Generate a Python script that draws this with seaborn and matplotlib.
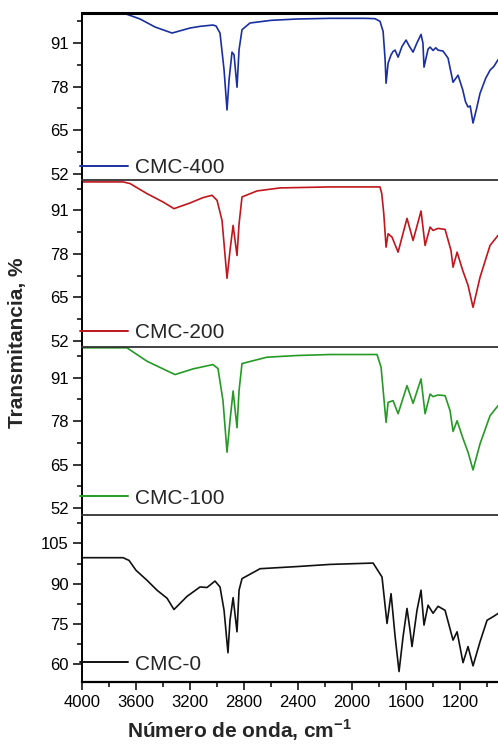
import numpy as np
import pandas as pd
import matplotlib
matplotlib.use("Agg")
import matplotlib.pyplot as plt
import seaborn as sns

# wavenumber (cm-1) / transmittance (%)
wn_400 = [4000, 3696, 3667, 3570, 3459, 3333, 3200, 3126, 3030, 3007, 2978, 2948, 2926, 2911,
          2889, 2874, 2852, 2837, 2815, 2756, 2600, 2407, 2163, 1900, 1830, 1793, 1770, 1755,
          1748, 1733, 1711, 1696, 1681, 1659, 1630, 1600, 1575, 1548, 1520, 1489, 1475, 1467,
          1437, 1422, 1400, 1380, 1363, 1326, 1289, 1252, 1215, 1180, 1160, 1141, 1125, 1104,
          1080, 1052, 1010, 978, 950, 919]
t_400 = [99.8, 99.8, 99.6, 98.2, 95.8, 94.0, 95.5, 96.0, 96.4, 96.1, 94.0, 83.0, 71.0, 80.0,
         88.3, 87.5, 77.8, 89.0, 95.0, 97.0, 97.8, 98.2, 98.4, 98.4, 98.3, 97.5, 94.5, 86.0,
         79.0, 85.0, 87.5, 88.5, 88.9, 86.8, 90.0, 91.9, 90.0, 88.3, 91.0, 93.6, 91.0, 83.8,
         89.2, 89.8, 88.8, 89.6, 88.9, 88.6, 86.5, 79.3, 81.4, 77.0, 73.5, 71.9, 72.2, 67.1,
         71.0, 76.0, 80.5, 82.9, 84.0, 86.0]

wn_200 = [4000, 3696, 3644, 3519, 3400, 3319, 3200, 3104, 3037, 3000, 2963, 2926, 2904, 2881,
          2852, 2837, 2815, 2704, 2533, 2163, 1793, 1780, 1765, 1748, 1733, 1704, 1659, 1593,
          1548, 1489, 1459, 1422, 1400, 1363, 1311, 1267, 1252, 1222, 1180, 1141, 1104, 1052,
          978, 919]
t_200 = [99.5, 99.5, 99.0, 96.0, 93.5, 91.5, 93.2, 94.8, 95.5, 94.0, 88.0, 70.7, 79.0, 86.5,
         77.5, 86.9, 95.0, 96.8, 97.7, 98.0, 98.0, 96.0, 90.0, 80.0, 84.0, 83.0, 78.5, 88.6,
         82.0, 90.8, 80.5, 86.0, 85.0, 85.6, 85.3, 79.0, 74.0, 78.5, 73.0, 68.6, 62.0, 71.0,
         80.5, 83.5]

wn_100 = [4000, 3667, 3519, 3400, 3311, 3178, 3030, 2993, 2956, 2926, 2904, 2881, 2852, 2837,
          2815, 2630, 2407, 2163, 1815, 1785, 1748, 1733, 1696, 1659, 1593, 1548, 1489, 1459,
          1422, 1400, 1363, 1311, 1274, 1252, 1222, 1180, 1141, 1104, 1052, 978, 919]
t_100 = [99.9, 99.9, 95.9, 93.6, 91.9, 93.6, 94.9, 93.7, 84.1, 68.7, 78.1, 87.0, 76.0, 87.1,
         95.2, 97.1, 97.6, 97.9, 97.9, 94.1, 77.6, 83.6, 84.1, 80.2, 88.6, 83.3, 90.6, 80.2,
         86.1, 85.3, 85.8, 85.6, 81.1, 74.9, 78.1, 73.0, 68.7, 63.4, 71.2, 79.6, 82.6]

wn_0 = [4000, 3696, 3652, 3600, 3519, 3445, 3370, 3319, 3222, 3126, 3074, 3015, 2978, 2948,
        2919, 2904, 2881, 2852, 2837, 2815, 2681, 2407, 2163, 1844, 1778, 1741, 1711, 1681,
        1652, 1622, 1593, 1570, 1556, 1519, 1489, 1467, 1437, 1400, 1363, 1311, 1252, 1222,
        1178, 1141, 1104, 1052, 1000, 956, 919]
t_0 = [99.7, 99.7, 98.7, 95.0, 91.3, 87.6, 84.6, 80.4, 85.3, 88.8, 88.6, 91.0, 88.8, 80.1,
       64.3, 76.4, 84.8, 72.1, 87.6, 91.9, 95.6, 96.4, 97.2, 97.7, 92.5, 75.2, 86.3, 70.3,
       57.3, 70.3, 80.8, 72.5, 66.6, 80.1, 87.6, 74.6, 82.0, 79.0, 81.6, 80.1, 69.0, 72.1,
       60.6, 66.6, 59.4, 68.4, 76.4, 77.7, 78.9]

labels = ["CMC-400", "CMC-200", "CMC-100", "CMC-0"]
colors = ["#1a2fa0", "#c0161c", "#259a25", "#111111"]
spectra = [(wn_400, t_400), (wn_200, t_200), (wn_100, t_100), (wn_0, t_0)]

sns.set_theme(style="ticks")
plt.rcParams["font.family"] = ["Liberation Sans", "DejaVu Sans"]
plt.rcParams["mathtext.fontset"] = "custom"
plt.rcParams["mathtext.rm"] = "Liberation Sans"
plt.rcParams["mathtext.bf"] = "Liberation Sans:bold"

fig, axes = plt.subplots(4, 1, figsize=(4.98, 7.46), dpi=100, sharex=True)
fig.subplots_adjust(left=0.1647, right=1.0, top=0.9826, bottom=0.0858, hspace=0)

leg_y = [0.074, 0.09, 0.10, 0.107]

for i, ax in enumerate(axes):
    wn, t = spectra[i]
    df = pd.DataFrame({"wn": wn, "T": t})
    sns.lineplot(data=df, x="wn", y="T", ax=ax, color=colors[i], lw=1.2,
                 label=labels[i], estimator=None)
    ax.set_xlim(4000, 919)
    if i < 3:
        ax.set_ylim(50, 100)
        ax.set_yticks([52, 65, 78, 91])
        ax.set_yticks([58.5, 71.5, 84.5, 97.5], minor=True)
    else:
        ax.set_ylim(53.4, 115.7)
        ax.set_yticks([60, 75, 90, 105])
        ax.set_yticks([67.5, 82.5, 97.5, 112.5], minor=True)
    ax.set_xlabel("")
    ax.set_ylabel("")
    ax.spines["right"].set_visible(False)
    ax.spines["left"].set_linewidth(1.4)
    ax.spines["left"].set_color("black")
    if i == 0:
        ax.spines["top"].set_linewidth(2.2)
        ax.spines["top"].set_color("black")
    else:
        ax.spines["top"].set_linewidth(1.3)
        ax.spines["top"].set_color("#333333")
    if i < 3:
        ax.spines["bottom"].set_visible(False)
        ax.tick_params(axis="x", which="both", bottom=False, labelbottom=False)
    else:
        ax.spines["bottom"].set_linewidth(1.6)
        ax.spines["bottom"].set_color("black")
    ax.tick_params(axis="y", which="major", direction="out", length=6.5, width=1.1,
                   labelsize=12, pad=3, colors="black")
    ax.tick_params(axis="y", which="minor", direction="out", length=3.6, width=1.1,
                   left=True, colors="black")
    leg = ax.legend(loc="center left", bbox_to_anchor=(-0.005, leg_y[i]), frameon=False,
                    fontsize=15, handlelength=2.3, handletextpad=0.35, borderpad=0,
                    borderaxespad=0)
    for line in leg.get_lines():
        line.set_linewidth(1.4)

bx = axes[3]
bx.set_xticks([4000, 3600, 3200, 2800, 2400, 2000, 1600, 1200])
bx.set_xticks([3800, 3400, 3000, 2600, 2200, 1800, 1400, 1000], minor=True)
bx.tick_params(axis="x", which="major", direction="out", length=5.5, width=1.1,
               labelsize=12, pad=4, colors="black")
bx.tick_params(axis="x", which="minor", direction="out", length=3.5, width=1.1,
               bottom=True, colors="black")

fig.text(0.48, 0.011, r"Número de onda, cm$^{\mathbf{-1}}$", ha="center", va="baseline",
         fontsize=15, fontweight="bold")
fig.text(0.036, 0.54, "Transmitancia, %", rotation=90, ha="center", va="center",
         fontsize=15, fontweight="bold")

fig.savefig("out.png", dpi=100)
